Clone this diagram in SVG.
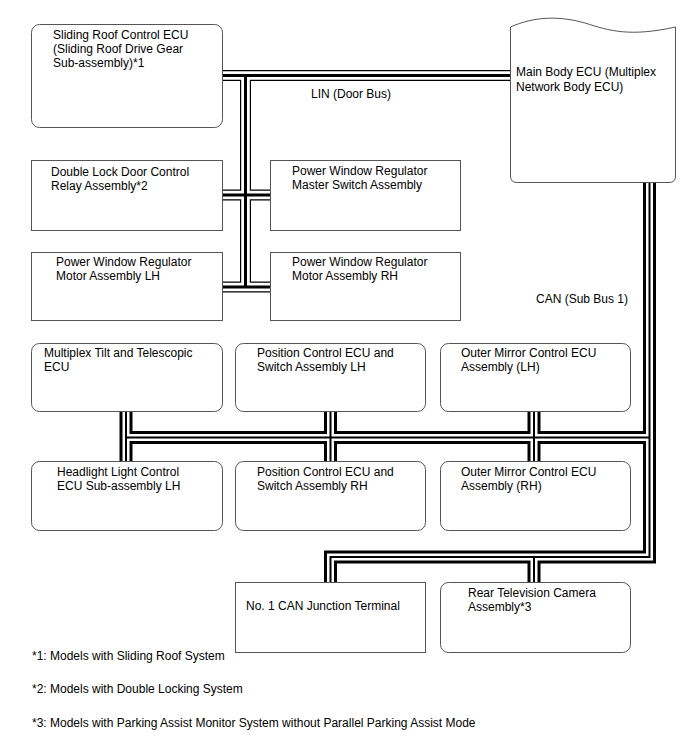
<svg xmlns="http://www.w3.org/2000/svg" width="688" height="755" viewBox="0 0 688 755">
<style>
  .box { fill: #fff; stroke: #555; stroke-width: 1; }
  text { font-family: "Liberation Sans", Arial, sans-serif; font-size: 12px; fill: #000; }
  .b1 { fill: none; stroke: #000; stroke-width: 11; }
  .b2 { fill: none; stroke: #fff; stroke-width: 8.6; }
  .b3 { fill: none; stroke: #000; stroke-width: 3; }
  .c1 { fill: none; stroke: #000; stroke-width: 13; }
  .c2 { fill: none; stroke: #fff; stroke-width: 7; }
  .c3 { fill: none; stroke: #000; stroke-width: 2; }
</style>
<defs>
  <path id="lin" d="M222,75.5 H510 M245.5,75.5 V287 M222,195 H270 M222,287 H270"/>
  <path id="can" d="M649.5,182 V557 H330.5 V582 M534,557 V582 M126,411 V462 M126,437.5 H649.5 M330.5,411 V462 M534,411 V462"/>
</defs>
<rect width="688" height="755" fill="#fff"/>
<g id="connectors">
  <use href="#lin" class="b1"/>
  <use href="#lin" class="b2"/>
  <use href="#lin" class="b3"/>
  <use href="#can" class="c1"/>
  <use href="#can" class="c2"/>
  <use href="#can" class="c3"/>
  <text x="311" y="98">LIN (Door Bus)</text>
  <text x="536" y="303">CAN (Sub Bus 1)</text>
</g>
<g id="sliding-roof">
  <rect class="box" x="31.5" y="24.5" width="191" height="103" rx="8"/>
  <text x="53" y="39">Sliding Roof Control ECU</text>
  <text x="53" y="53">(Sliding Roof Drive Gear</text>
  <text x="53" y="67">Sub-assembly)*1</text>
</g>
<g id="main-body">
  <path class="box" d="M510.5,27 C535,16 560,16 585,23 C610,31 630,37 675.5,27 V176 Q675.5,182.5 669,182.5 H517 Q510.5,182.5 510.5,176 Z"/>
  <text x="516" y="76">Main Body ECU (Multiplex</text>
  <text x="516" y="91">Network Body ECU)</text>
</g>
<g id="double-lock">
  <rect class="box" x="31.5" y="160.5" width="191" height="70"/>
  <text x="51" y="176">Double Lock Door Control</text>
  <text x="51" y="190">Relay Assembly*2</text>
</g>
<g id="pw-master">
  <rect class="box" x="270.5" y="160.5" width="190" height="70"/>
  <text x="292" y="175">Power Window Regulator</text>
  <text x="292" y="189">Master Switch Assembly</text>
</g>
<g id="pw-motor-lh">
  <rect class="box" x="31.5" y="252.5" width="191" height="68"/>
  <text x="56" y="266">Power Window Regulator</text>
  <text x="56" y="280">Motor Assembly LH</text>
</g>
<g id="pw-motor-rh">
  <rect class="box" x="270.5" y="252.5" width="190" height="68"/>
  <text x="292" y="266">Power Window Regulator</text>
  <text x="292" y="280">Motor Assembly RH</text>
</g>
<g id="tilt-telescopic">
  <rect class="box" x="31.5" y="343.5" width="191" height="68" rx="8"/>
  <text x="44" y="357">Multiplex Tilt and Telescopic</text>
  <text x="44" y="371">ECU</text>
</g>
<g id="position-lh">
  <rect class="box" x="235.5" y="343.5" width="190" height="68" rx="8"/>
  <text x="257" y="357">Position Control ECU and</text>
  <text x="257" y="371">Switch Assembly LH</text>
</g>
<g id="mirror-lh">
  <rect class="box" x="440.5" y="343.5" width="190" height="68" rx="8"/>
  <text x="461" y="357">Outer Mirror Control ECU</text>
  <text x="461" y="371">Assembly (LH)</text>
</g>
<g id="headlight">
  <rect class="box" x="31.5" y="461.5" width="191" height="69" rx="8"/>
  <text x="57" y="476">Headlight Light Control</text>
  <text x="57" y="490">ECU Sub-assembly LH</text>
</g>
<g id="position-rh">
  <rect class="box" x="235.5" y="461.5" width="190" height="69" rx="8"/>
  <text x="257" y="476">Position Control ECU and</text>
  <text x="257" y="490">Switch Assembly RH</text>
</g>
<g id="mirror-rh">
  <rect class="box" x="440.5" y="461.5" width="190" height="69" rx="8"/>
  <text x="461" y="476">Outer Mirror Control ECU</text>
  <text x="461" y="490">Assembly (RH)</text>
</g>
<g id="can-junction">
  <rect class="box" x="235.5" y="582.5" width="190" height="70"/>
  <text x="246" y="610">No. 1 CAN Junction Terminal</text>
</g>
<g id="rear-camera">
  <rect class="box" x="440.5" y="582.5" width="190" height="70" rx="8"/>
  <text x="468" y="597">Rear Television Camera</text>
  <text x="468" y="611">Assembly*3</text>
</g>
<g id="notes">
  <text x="32" y="660">*1: Models with Sliding Roof System</text>
  <text x="32" y="693">*2: Models with Double Locking System</text>
  <text x="32" y="727">*3: Models with Parking Assist Monitor System without Parallel Parking Assist Mode</text>
</g>
</svg>
